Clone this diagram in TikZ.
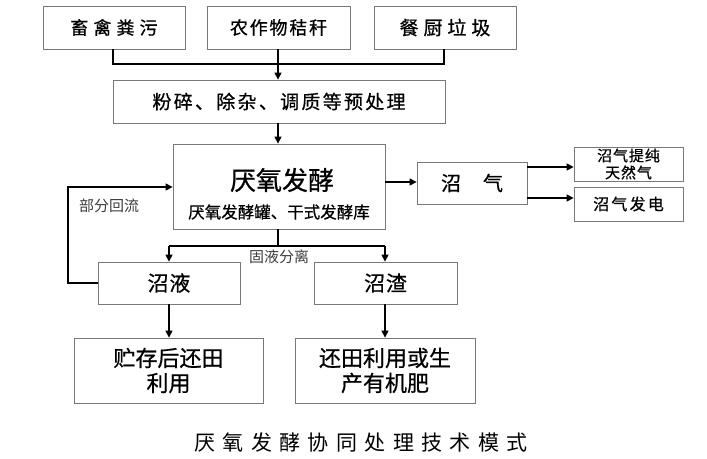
\documentclass[tikz,border=0pt]{standalone}
\usepackage{fontspec}
\newfontfamily\cjk{Noto Sans CJK SC}[FakeBold=0.6]
\newfontfamily\cjkr{Noto Sans CJK SC}
\usetikzlibrary{arrows.meta}
\definecolor{boxline}{RGB}{120,120,120}
\definecolor{labgray}{RGB}{60,60,60}
\newcommand{\sps}[1]{\addfontfeature{LetterSpace=#1}}
\newcommand{\fsz}[1]{\fontsize{#1}{#1}\selectfont}
\tikzset{
  box/.style={draw=boxline, line width=0.8pt, fill=white, inner sep=0pt, align=center, text=black},
  conn/.style={line width=1.4pt, draw=black},
  arr/.style={conn, -{Triangle[length=7pt,width=7pt]}},
  lab/.style={font=\cjkr\fsz{15}, text=labgray, inner sep=0pt},
}
\begin{document}
\begin{tikzpicture}[x=1pt,y=1pt]
\useasboundingbox (0,0) rectangle (707,-458);
% top sources
\node[box, minimum width=142pt, minimum height=43pt, font=\cjk\fsz{18}\sps{28}] (b1) at (114,-27.5) {畜禽粪污};
\node[box, minimum width=143pt, minimum height=43pt, font=\cjk\fsz{18}\sps{10}] (b2) at (278.5,-27.5) {农作物秸秆};
\node[box, minimum width=142pt, minimum height=43pt, font=\cjk\fsz{19}\sps{26}] (b3) at (445,-27.5) {餐厨垃圾};
% pretreatment
\node[box, minimum width=332pt, minimum height=43pt, font=\cjk\fsz{19}\sps{12}] (pre) at (279,-101.5) {粉碎、除杂、调质等预处理};
% fermentation
\node[box, minimum width=212pt, minimum height=85pt] (ferm) at (279,-186.5) {};
\node[font=\cjk\fsz{26}, inner sep=0pt] (fermt) at (282,-180) {厌氧发酵};
\node[font=\cjk\fsz{16.5}, inner sep=0pt] (fermst) at (279,-212) {厌氧发酵罐、干式发酵库};
% biogas
\node[box, minimum width=110pt, minimum height=42pt, font=\cjk\fsz{20}] (gas) at (472,-183) {沼\hspace{22pt}气};
\node[box, minimum width=109pt, minimum height=34pt, font=\cjk\fsz{15}\sps{6}] (up) at (628.5,-164) {沼气提纯\\[2pt]天然气};
\node[box, minimum width=109pt, minimum height=34pt, font=\cjk\fsz{16}\sps{14}] (pow) at (628.5,-204) {沼气发电};
% separation
\node[box, minimum width=142pt, minimum height=42pt, font=\cjk\fsz{21}\sps{4}] (liq) at (169,-283) {沼液};
\node[box, minimum width=143pt, minimum height=42pt, font=\cjk\fsz{21}\sps{4}] (res) at (385.5,-283) {沼渣};
\node[box, minimum width=189pt, minimum height=65pt, font=\cjk\fsz{22}] (bl) at (168.5,-370.5) {贮存后还田\\[3pt]利用};
\node[box, minimum width=180pt, minimum height=65pt, font=\cjk\fsz{22}] (br) at (385,-370.5) {还田利用或生\\[3pt]产有机肥};
% labels
\node[lab] (lfb) at (109,-206) {部分回流};
\node[lab] (lsep) at (279,-257) {固液分离};
\node[font=\cjkr\fsz{21}\sps{35}, inner sep=0pt] (cap) at (361,-443) {厌氧发酵协同处理技术模式};
% coordinates
\coordinate (j1) at (113,-64);
\coordinate (j3) at (444,-64);
\coordinate (j2) at (278,-64);
\coordinate (s1) at (278,-246);
\coordinate (sl) at (169,-246);
\coordinate (sr) at (385,-246);
\coordinate (f1) at (68,-283);
\coordinate (f2) at (68,-187);
% connectors
\draw[conn] (b1.south -| j1) -- (j1) -- (j3) -- (b3.south -| j3);
\draw[arr] (b2.south -| j2) -- (pre.north -| j2);
\draw[arr] (pre.south -| j2) -- (ferm.north -| j2);
\draw[arr] (ferm.east |- 0,-182) -- (gas.west |- 0,-182);
\draw[arr] (gas.east |- 0,-167) -- (up.west |- 0,-167);
\draw[arr] (gas.east |- 0,-198) -- (pow.west |- 0,-198);
\draw[conn] (ferm.south -| s1) -- (s1);
\draw[conn] (sl) -- (sr);
\draw[arr] (sl) -- (liq.north -| sl);
\draw[arr] (sr) -- (res.north -| sr);
\draw[arr] (liq.west |- f1) -- (f1) -- (f2) -- (ferm.west |- f2);
\draw[arr] (liq.south -| sl) -- (bl.north -| sl);
\draw[arr] (res.south -| sr) -- (br.north -| sr);
\end{tikzpicture}
\end{document}
